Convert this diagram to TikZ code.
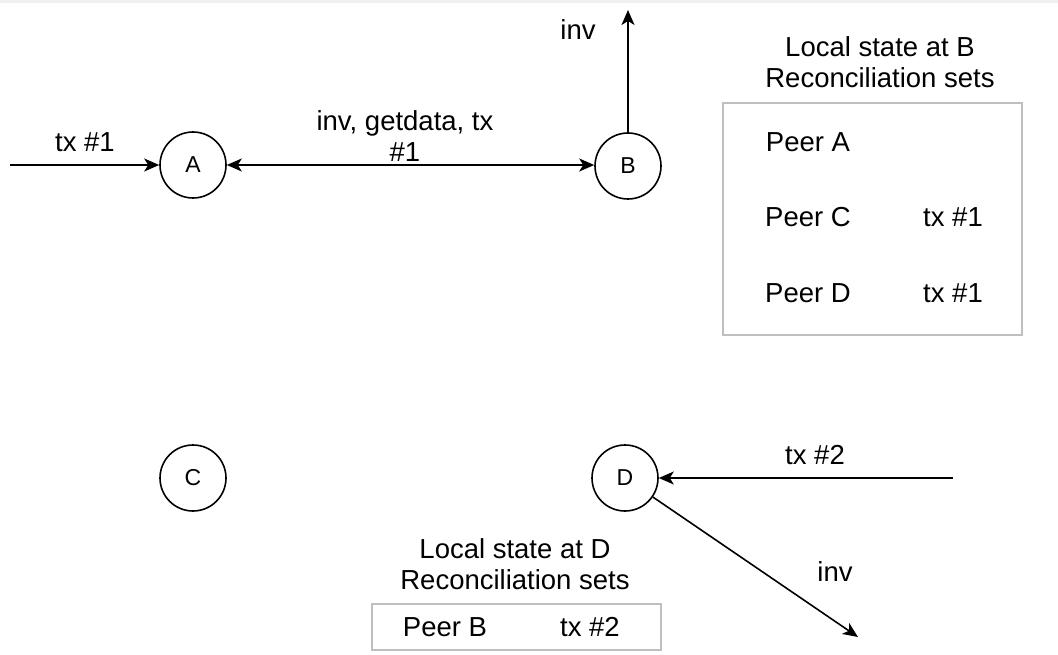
\documentclass[tikz,border=0pt]{standalone}
\usepackage{fontspec}
\setmainfont{Liberation Sans}
\usetikzlibrary{arrows.meta}
\begin{document}
\begin{tikzpicture}[x=1pt,y=-1pt,
  circ/.style={draw, circle, line width=1.6pt, minimum size=66pt, inner sep=0pt, font=\fontsize{23}{26}\selectfont},
  lbl/.style={inner sep=0pt, align=center, font=\fontsize{27.5}{31}\selectfont},
  conn/.style={line width=1.6pt, -{Stealth[length=15pt,width=13pt,inset=4pt]}},
  conn2/.style={line width=1.6pt, {Stealth[length=15pt,width=13pt,inset=4pt]}-{Stealth[length=15pt,width=13pt,inset=4pt]}},
  box/.style={draw=black!25, line width=1.6pt, inner sep=0pt}]
\useasboundingbox (0,0) rectangle (1058,655);
\fill[black!6] (0,0) rectangle (1058,3);
% nodes
\node[circ] (A) at (193,165) {A};
\node[circ] (B) at (628,166) {B};
\node[circ] (C) at (193,478) {C};
\node[circ] (D) at (625,478) {D};
% free ends
\coordinate (ain) at (10,165);
\coordinate (bup) at (628,10);
\coordinate (din) at (953,478);
\coordinate (dout) at (858,637);
% connectors
\draw[conn] (ain) -- (A);
\draw[conn2] (A.east) -- (A.east -| B.west);
\draw[conn] (B) -- (bup);
\draw[conn] (din) -- (D);
\draw[conn] (D) -- (dout);
% labels
\node[lbl] (l1) at (85,142) {tx \#1};
\node[lbl] (l2) at (405,136) {inv, getdata, tx\\\#1};
\node[lbl] (l3) at (578,30) {inv};
\node[lbl] (l4) at (815,455) {tx \#2};
\node[lbl] (l5) at (835,572) {inv};
% box B
\node[lbl] (tb) at (880,62) {Local state at B\\Reconciliation sets};
\node[box, minimum width=299pt, minimum height=232pt] (boxB) at (872.5,219) {};
\node[lbl] (pa) at (808,142) {Peer A};
\node[lbl] (pc) at (808,217) {Peer C};
\node[lbl] (pd) at (808,293) {Peer D};
\node[lbl] (tc) at (953,217) {tx \#1};
\node[lbl] (td) at (953,293) {tx \#1};
% box D
\node[lbl] (tdd) at (515,564) {Local state at D\\Reconciliation sets};
\node[box, minimum width=289pt, minimum height=46pt] (boxD) at (516.5,627) {};
\node[lbl] (pb) at (445,627) {Peer B};
\node[lbl] (t2) at (590,627) {tx \#2};
\end{tikzpicture}
\end{document}
